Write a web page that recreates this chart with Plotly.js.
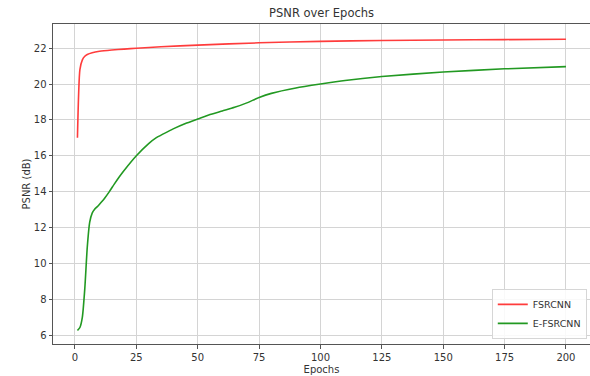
<!DOCTYPE html>
<html>
<head>
<meta charset="utf-8">
<script src="https://cdn.plot.ly/plotly-3.0.1.min.js"></script>
<style>html,body{margin:0;padding:0;background:#fff;}#chart{width:590px;height:376px;}</style>
</head>
<body>
<div id="chart"></div>
<script>
const fsrcnnEpochs = [1, 2, 3, 4, 5, 7, 10, 15, 20, 25, 35, 50, 75, 100, 125, 150, 175, 200];
const fsrcnnPsnr   = [17.0, 20.8, 21.35, 21.55, 21.65, 21.75, 21.83, 21.9, 21.95, 22.0, 22.08, 22.17, 22.3, 22.38, 22.43, 22.46, 22.48, 22.5];

const efsrcnnEpochs = [1, 2, 3, 4, 5, 6, 7, 8, 9, 10, 12, 14, 16, 18, 20, 25, 30, 33, 36, 40, 45, 50, 55, 60, 65, 70, 75, 80, 90, 100, 110, 125, 150, 175, 200];
const efsrcnnPsnr   = [6.25, 6.42, 7.0, 8.6, 10.9, 12.3, 12.8, 13.02, 13.15, 13.3, 13.62, 14.0, 14.42, 14.82, 15.18, 16.0, 16.68, 17.0, 17.22, 17.5, 17.8, 18.05, 18.3, 18.5, 18.7, 18.95, 19.25, 19.48, 19.78, 20.0, 20.2, 20.42, 20.67, 20.85, 20.97];

const xTicks = [0, 25, 50, 75, 100, 125, 150, 175, 200];
const yTicks = [6, 8, 10, 12, 14, 16, 18, 20, 22];

const font = {family: 'DejaVu Sans, sans-serif', size: 10, color: '#333'};

const traces = [
  {x: fsrcnnEpochs, y: fsrcnnPsnr, name: 'FSRCNN', mode: 'lines',
   line: {color: '#ff3c3c', width: 1.6, shape: 'spline', smoothing: 0.6}},
  {x: efsrcnnEpochs, y: efsrcnnPsnr, name: 'E-FSRCNN', mode: 'lines',
   line: {color: '#229922', width: 1.6, shape: 'spline', smoothing: 0.6}}
];

const layout = {
  width: 590, height: 376,
  margin: {l: 53, r: 0, t: 24, b: 32},
  paper_bgcolor: '#fff', plot_bgcolor: '#fff',
  font: font,
  title: {text: 'PSNR over Epochs', font: {family: 'DejaVu Sans, sans-serif', size: 11.5, color: '#333'},
          x: 0.545, xref: 'container', xanchor: 'center', y: 0.965, yref: 'container', yanchor: 'middle'},
  showlegend: true,
  legend: {x: 0.994, y: 0.016, xanchor: 'right', yanchor: 'bottom',
           bgcolor: 'rgba(255,255,255,0.85)', bordercolor: '#d6d6d6', borderwidth: 1,
           font: {family: 'DejaVu Sans, sans-serif', size: 9.5, color: '#333'},
           itemwidth: 30, tracegroupgap: 0},
  xaxis: {
    range: [-8.96, 209.8], tickvals: xTicks, ticktext: xTicks.map(String),
    showgrid: true, gridcolor: '#d4d4d4', gridwidth: 1, zeroline: false,
    showline: true, linecolor: '#555', linewidth: 1, mirror: true,
    ticks: 'outside', ticklen: 3.5, tickcolor: '#555', tickwidth: 1,
    tickfont: font,
    title: {text: 'Epochs', font: font, standoff: 4}
  },
  yaxis: {
    range: [5.5, 23.35], tickvals: yTicks, ticktext: yTicks.map(String),
    showgrid: true, gridcolor: '#d4d4d4', gridwidth: 1, zeroline: false,
    showline: true, linecolor: '#555', linewidth: 1, mirror: false,
    ticks: 'outside', ticklen: 3.5, tickcolor: '#555', tickwidth: 1,
    tickfont: font,
    title: {text: 'PSNR (dB)', font: font, standoff: 1}
  }
};

Plotly.newPlot('chart', traces, layout, {displayModeBar: false, staticPlot: true});
</script>
</body>
</html>
